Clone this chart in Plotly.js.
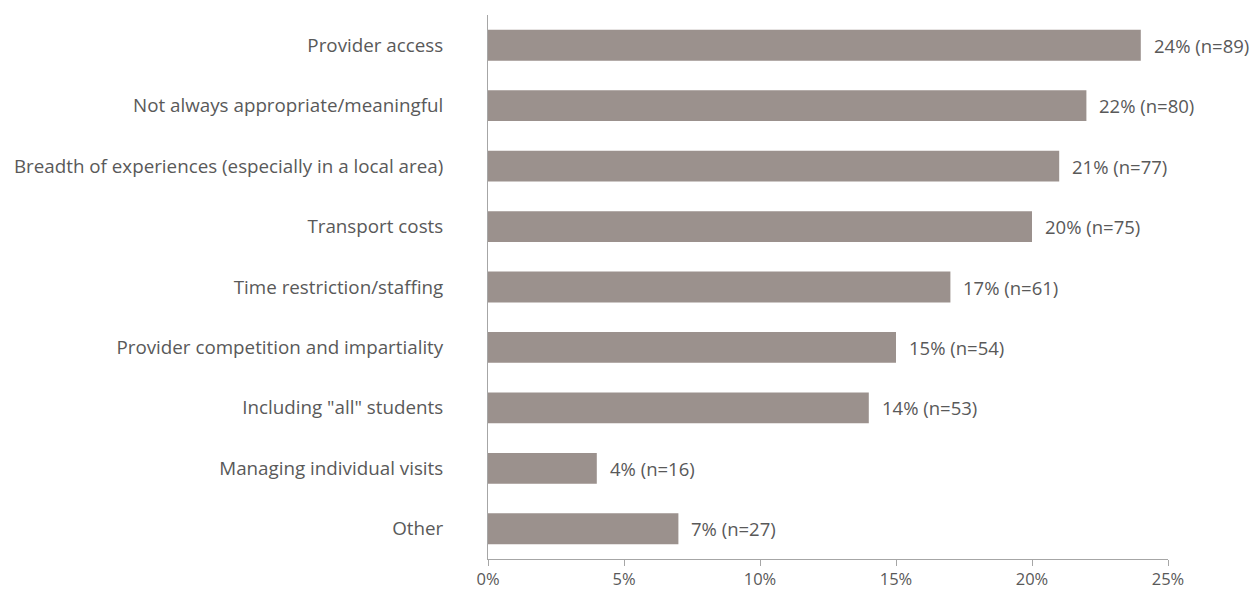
<!DOCTYPE html>
<html>
<head>
<meta charset="utf-8">
<script src="https://cdn.plot.ly/plotly-3.0.1.min.js"></script>
<style>html,body{margin:0;padding:0;background:#fff;}#chart{width:1258px;height:590px;}</style>
</head>
<body>
<div id="chart"></div>
<script>
const categories = [
  "Provider access",
  "Not always appropriate/meaningful",
  "Breadth of experiences (especially in a local area)",
  "Transport costs",
  "Time restriction/staffing",
  "Provider competition and impartiality",
  "Including \"all\" students",
  "Managing individual visits",
  "Other"
];
const percents = [24, 22, 21, 20, 17, 15, 14, 4, 7];
const counts = [89, 80, 77, 75, 61, 54, 53, 16, 27];
const xTickVals = [0, 5, 10, 15, 20, 25];
const xTickText = ["0%", "5%", "10%", "15%", "20%", "25%"];

const labels = percents.map((p, i) => p + "% (n=" + counts[i] + ")");
const fontFam = "'Open Sans', Lato, sans-serif";

const trace = {
  type: "bar",
  orientation: "h",
  y: categories,
  x: percents,
  width: 0.51,
  marker: {color: "#9b918d"},
  hoverinfo: "none"
};

const annotations = percents.map((p, i) => ({
  x: p, y: categories[i], xref: "x", yref: "y",
  text: labels[i], showarrow: false, xanchor: "left", xshift: 11,
  font: {family: fontFam, size: 18.5, color: "#595959"}
}));

const layout = {
  width: 1258, height: 590,
  margin: {l: 488, r: 90, t: 15, b: 31},
  paper_bgcolor: "#fff", plot_bgcolor: "#fff",
  showlegend: false,
  font: {family: fontFam, size: 18.5, color: "#595959"},
  xaxis: {
    range: [0, 25], tickvals: xTickVals, ticktext: xTickText,
    showgrid: false, zeroline: false, showline: true, linecolor: "#a6a6a6", linewidth: 1,
    ticks: "outside", ticklen: 6, tickcolor: "#a6a6a6", ticklabelstandoff: -1,
    tickfont: {family: fontFam, size: 16.5, color: "#595959"}, fixedrange: true
  },
  yaxis: {
    type: "category", autorange: "reversed",
    showgrid: false, zeroline: false, showline: true, linecolor: "#a6a6a6", linewidth: 1,
    ticks: "", ticklabelstandoff: 40,
    tickfont: {family: fontFam, size: 18.8, color: "#595959"}, fixedrange: true
  },
  annotations: annotations
};

Plotly.newPlot("chart", [trace], layout, {displayModeBar: false, staticPlot: true});
</script>
</body>
</html>
